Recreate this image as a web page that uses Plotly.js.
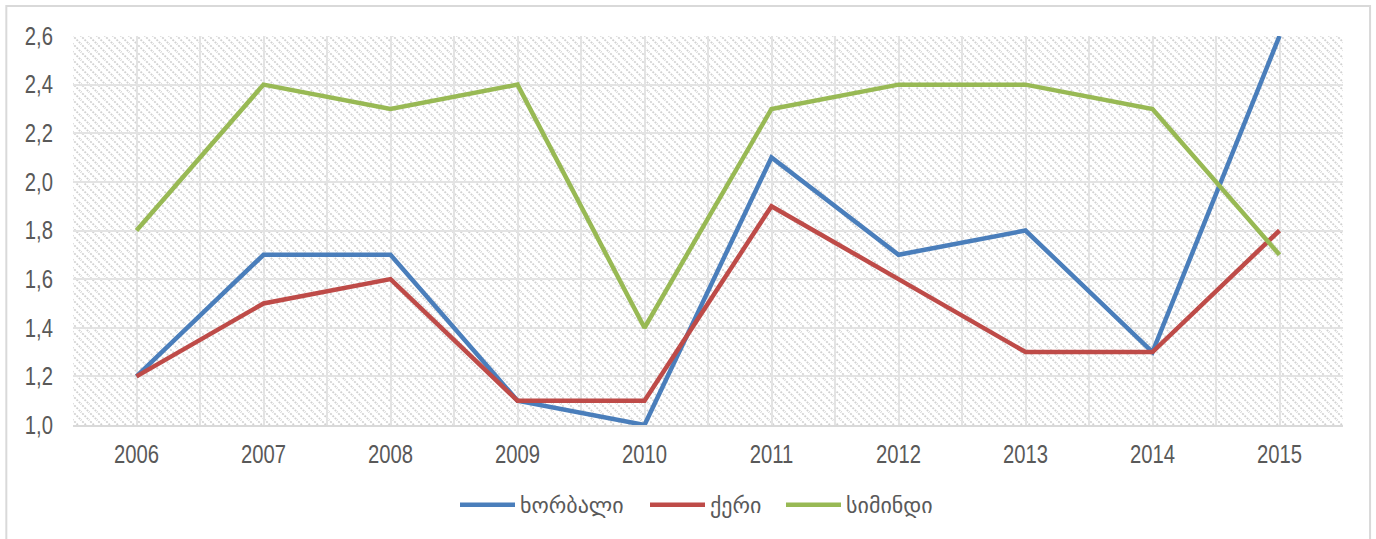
<!DOCTYPE html>
<html>
<head>
<meta charset="utf-8">
<script src="https://cdn.plot.ly/plotly-3.0.1.min.js"></script>
<style>html,body{margin:0;padding:0;background:#fff;}#chart{width:1376px;height:539px;}</style>
</head>
<body>
<div id="chart"></div>
<script>
var years = ['2006','2007','2008','2009','2010','2011','2012','2013','2014','2015'];
var wheat = [1.2, 1.7, 1.7, 1.1, 1.0, 2.1, 1.7, 1.8, 1.3, 2.6];
var barley = [1.2, 1.5, 1.6, 1.1, 1.1, 1.9, 1.6, 1.3, 1.3, 1.8];
var maize = [1.8, 2.4, 2.3, 2.4, 1.4, 2.3, 2.4, 2.4, 2.3, 1.7];
var seriesNames = ['ხორბალი', 'ქერი', 'სიმინდი'];
var yTicks = [1.0, 1.2, 1.4, 1.6, 1.8, 2.0, 2.2, 2.4, 2.6];

var idx = years.map(function(_, i){ return i; });
var half = [];
for (var i = 0; i <= years.length; i++) half.push(i - 0.5);

var hatch = 'data:image/svg+xml;base64,' + btoa(
  '<svg xmlns="http://www.w3.org/2000/svg" width="1270" height="389">' +
  '<defs><pattern id="p" width="8" height="8" patternUnits="userSpaceOnUse">' +
  '<path d="M-1,-1 L9,9 M-1,7 L1,9 M7,-1 L9,1" stroke="#d2d2d2" stroke-width="1.8" stroke-dasharray="2,1.2"/>' +
  '</pattern></defs><rect width="1270" height="389" fill="url(#p)"/></svg>');

function tr(y, name, color) {
  return {x: idx, y: y, name: name, type: 'scatter', mode: 'lines',
          line: {color: color, width: 4.5}};
}
var data = [
  tr(wheat, seriesNames[0], '#4a7ebb'),
  tr(barley, seriesNames[1], '#be4b48'),
  tr(maize, seriesNames[2], '#98b954')
];

var tickFont = {family: '"Liberation Sans", Arial, sans-serif', size: 25, color: '#595959'};

var layout = {
  width: 1376, height: 539,
  margin: {l: 73, r: 33, t: 36, b: 114},
  paper_bgcolor: '#ffffff', plot_bgcolor: 'rgba(0,0,0,0)',
  showlegend: true,
  legend: {orientation: 'h', xref: 'container', yref: 'container', x: 0.5036, xanchor: 'center',
           y: 0.063, yanchor: 'middle',
           font: {family: '"DejaVu Sans", sans-serif', size: 22, color: '#595959'},
           itemwidth: 55, traceorder: 'normal'},
  xaxis: {range: [-0.5, 9.5], tickvals: idx, ticktext: years, showgrid: true,
          gridcolor: '#e3e3e3', gridwidth: 2, zeroline: false,
          ticks: 'outside', ticklen: 6, tickcolor: 'rgba(0,0,0,0)',
          tickfont: tickFont, showline: true, linecolor: '#d9d9d9', linewidth: 2,
          minor: {tickvals: half, showgrid: true, gridcolor: '#e3e3e3', gridwidth: 2, ticks: ''},
          automargin: false, fixedrange: true},
  yaxis: {range: [1.0, 2.6], tickvals: yTicks,
          ticktext: yTicks.map(function(v){ return v.toFixed(1).replace('.', ','); }),
          showgrid: true, gridcolor: '#e3e3e3', gridwidth: 2, zeroline: false,
          ticks: 'outside', ticklen: 14, tickcolor: 'rgba(0,0,0,0)',
          tickfont: tickFont, showline: false, automargin: false, fixedrange: true},
  images: [{source: hatch, xref: 'paper', yref: 'paper', x: 0, y: 1, sizex: 1, sizey: 1,
            xanchor: 'left', yanchor: 'top', sizing: 'stretch', layer: 'below'}],
  shapes: [{type: 'rect', xref: 'paper', yref: 'paper',
            x0: -0.0525, x1: 1.0213, y0: -0.32, y1: 1.0771,
            line: {color: '#d9d9d9', width: 2}, fillcolor: 'rgba(0,0,0,0)', layer: 'below'}]
};

function narrowTicks(gd) {
  var texts = gd.querySelectorAll('.xtick text, .ytick text');
  texts.forEach(function(t) {
    var x = parseFloat(t.getAttribute('x')) || 0;
    var tf = t.getAttribute('transform') || '';
    t.setAttribute('transform', tf + ' translate(' + x + ',0) scale(0.81,1) translate(' + (-x) + ',0)');
  });
}

// spread legend entries like the reference (line starts in px)
var legendStarts = [460, 650, 786];
function spreadLegend(gd) {
  var sb = gd.querySelectorAll('.legend [clip-path]');
  sb.forEach(function(el){ el.removeAttribute('clip-path'); });
  var items = gd.querySelectorAll('.legend .traces');
  items.forEach(function(g, k) {
    var p = g.querySelector('.legendlines path.js-line') || g.querySelector('.legendlines path');
    if (!p || legendStarts[k] === undefined) return;
    var left = p.getBoundingClientRect().left;
    var dx = legendStarts[k] - left;
    var tf = g.getAttribute('transform') || '';
    g.setAttribute('transform', tf + ' translate(' + dx + ',0)');
  });
}

Plotly.newPlot('chart', data, layout, {staticPlot: true, displayModeBar: false}).then(function(gd){
  narrowTicks(gd);
  spreadLegend(gd);
});
</script>
</body>
</html>
